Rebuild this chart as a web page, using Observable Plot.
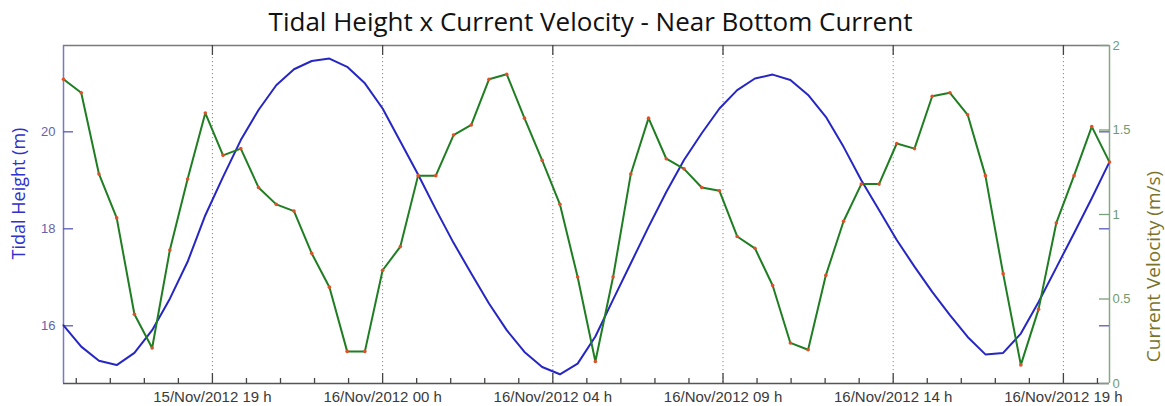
<!DOCTYPE html>
<html>
<head>
<meta charset="utf-8">
<script src="https://cdn.jsdelivr.net/npm/d3@7"></script>
<script src="https://cdn.jsdelivr.net/npm/@observablehq/plot@0.6"></script>
<style>
  body { margin: 0; background: #fff; }
  #chart svg { display: block; }
</style>
</head>
<body>
<div id="chart"></div>
<script>
// Half-hourly samples, 15/Nov/2012 15:00 to 16/Nov/2012 20:30
const startTime = "2012-11-15T15:00:00Z";
const sampleMinutes = 30;

// Tidal height (m)
const tidalHeight = [
  16.01, 15.57, 15.28, 15.19, 15.44, 15.91, 16.56, 17.32, 18.28, 19.07,
  19.83, 20.45, 20.96, 21.29, 21.46, 21.51, 21.34, 21.00, 20.48, 19.80,
  19.12, 18.40, 17.71, 17.08, 16.46, 15.91, 15.46, 15.15, 15.00, 15.22,
  15.78, 16.54, 17.29, 18.04, 18.76, 19.42, 19.97, 20.48, 20.86, 21.10,
  21.18, 21.07, 20.76, 20.31, 19.69, 19.00, 18.39, 17.77, 17.22, 16.70,
  16.22, 15.77, 15.41, 15.44, 15.84, 16.49, 17.20, 17.91, 18.63, 19.38
];

// Near-bottom current velocity (m/s)
const currentVelocity = [
  1.80, 1.72, 1.24, 0.98, 0.41, 0.21, 0.79, 1.21, 1.60, 1.35,
  1.39, 1.16, 1.06, 1.02, 0.77, 0.57, 0.19, 0.19, 0.67, 0.81,
  1.23, 1.23, 1.47, 1.53, 1.80, 1.83, 1.57, 1.32, 1.06, 0.63,
  0.13, 0.63, 1.24, 1.57, 1.33, 1.27, 1.16, 1.14, 0.87, 0.80,
  0.58, 0.24, 0.20, 0.64, 0.96, 1.18, 1.18, 1.42, 1.39, 1.70,
  1.72, 1.59, 1.23, 0.65, 0.11, 0.44, 0.95, 1.23, 1.52, 1.31
];

// Axis ticks and labels
const heightTicks = [16, 18, 20];
const velocityTicks = [0, 0.5, 1, 1.5, 2];
const timeTicks = [
  "2012-11-15T19:12:00Z", "2012-11-16T00:00:00Z", "2012-11-16T04:48:00Z",
  "2012-11-16T09:36:00Z", "2012-11-16T14:24:00Z", "2012-11-16T19:12:00Z"
];
const timeTickLabels = [
  "15/Nov/2012 19 h", "16/Nov/2012 00 h", "16/Nov/2012 04 h",
  "16/Nov/2012 09 h", "16/Nov/2012 14 h", "16/Nov/2012 19 h"
];

const t0 = new Date(startTime);
const times = tidalHeight.map((_, i) => d3.utcMinute.offset(t0, i * sampleMinutes));
const tEnd = times[times.length - 1];

const tidal = times.map((t, i) => ({t, h: tidalHeight[i]}));
const velocity = times.map((t, i) => ({t, v: currentVelocity[i]}));

const majorTimes = timeTicks.map(s => new Date(s));
const labelByTime = new Map(majorTimes.map((d, i) => [+d, timeTickLabels[i]]));
// minor ticks every 0.04 day between the labelled ticks
const minorStep = 0.04 * 864e5;
const minorTimes = d3.range(+majorTimes[0] - 4 * minorStep, +tEnd, minorStep)
  .filter(ms => ms > +t0 && !majorTimes.some(m => Math.abs(+m - ms) < 1000))
  .map(ms => new Date(ms));

// Left axis range (tidal height); the velocity axis 0..2 shares the same frame
const hLo = 14.81, hHi = 21.78;
const v2h = v => hLo + v * (hHi - hLo) / 2;
const h2v = h => Math.round((h - hLo) * 2 / (hHi - hLo) * 10) / 10;

const W = 1165, H = 406;
const mL = 63, mR = 56, mT = 45, mB = 23;
const plotW = W - mL - mR, plotH = H - mT - mB;

const blue = "#2626c4", green = "#1f7d22", dotRed = "#e0502a";
const tickFont = "Liberation Sans, Arial, sans-serif";
const titleFont = "Open Sans, sans-serif";

const chart = Plot.plot({
  width: W,
  height: H,
  marginLeft: mL,
  marginRight: mR,
  marginTop: mT,
  marginBottom: mB,
  x: {type: "utc", domain: [t0, tEnd]},
  y: {domain: [hLo, hHi]},
  marks: [
    // dotted gridlines at labelled times
    Plot.ruleX(majorTimes, {stroke: "#888", strokeDasharray: "1.2,2.8", strokeWidth: 1}),
    // frame
    Plot.ruleY([hHi], {stroke: "#7a7a7a", strokeWidth: 1.5}),
    Plot.ruleY([hLo], {stroke: "#555", strokeWidth: 1.5}),
    Plot.ruleX([t0], {stroke: "#7878c8", strokeWidth: 1.5}),
    Plot.ruleX([tEnd], {stroke: "#86a886", strokeWidth: 1.5}),
    // inward ticks on the time axis (bottom) and top edge
    Plot.tickX(majorTimes, {x: d => d, insetTop: plotH - 10, stroke: "#444", strokeWidth: 1.3}),
    Plot.tickX(minorTimes, {x: d => d, insetTop: plotH - 5, stroke: "#444", strokeWidth: 1.3}),
    Plot.tickX(majorTimes, {x: d => d, insetBottom: plotH - 10, stroke: "#444", strokeWidth: 1.3}),
    // inward ticks for tidal height (left and mirrored right)
    Plot.tickY(heightTicks, {y: d => d, insetRight: plotW - 10, stroke: "#5a5ab8", strokeWidth: 1.3}),
    Plot.tickY(heightTicks, {y: d => d, insetLeft: plotW - 10, stroke: "#5a5ab8", strokeWidth: 1.3}),
    // inward ticks for current velocity (right)
    Plot.tickY(velocityTicks.map(v2h), {y: d => d, insetLeft: plotW - 10, stroke: "#7aa07a", strokeWidth: 1.3}),
    // series
    Plot.line(tidal, {x: "t", y: "h", stroke: blue, strokeWidth: 2}),
    Plot.line(velocity, {x: "t", y: d => v2h(d.v), stroke: green, strokeWidth: 2}),
    Plot.dot(velocity, {x: "t", y: d => v2h(d.v), r: 1.8, fill: dotRed, stroke: null}),
    // axes
    Plot.axisY(heightTicks, {
      anchor: "left", tickSize: 0, tickPadding: 8, label: null,
      fill: "#6464a8", fontSize: 13, fontFamily: tickFont
    }),
    Plot.axisY(velocityTicks.map(v2h), {
      anchor: "right", tickSize: 0, tickPadding: 3, label: null,
      tickFormat: h => String(h2v(h)),
      fill: "#6f9a6f", fontSize: 13, fontFamily: tickFont
    }),
    Plot.axisX(majorTimes, {
      anchor: "bottom", tickSize: 0, tickPadding: 8, label: null,
      tickFormat: d => labelByTime.get(+d),
      fill: "#3a3a3a", fontSize: 15, fontFamily: tickFont
    }),
    // axis titles
    Plot.text(["Tidal Height (m)"], {
      frameAnchor: "left", textAnchor: "middle", lineAnchor: "middle",
      rotate: -90, dx: -44, dy: -21,
      fill: "#3030cc", fontSize: 18, fontFamily: titleFont
    }),
    Plot.text(["Current Velocity (m/s)"], {
      frameAnchor: "right", textAnchor: "middle", lineAnchor: "middle",
      rotate: -90, dx: 44, dy: 52,
      fill: "#7a732c", fontSize: 19, fontFamily: titleFont
    }),
    // chart title
    Plot.text(["Tidal Height x Current Velocity - Near Bottom Current"], {
      frameAnchor: "top", textAnchor: "middle", lineAnchor: "middle", dx: 4, dy: -23,
      fill: "#111", fontSize: 26, fontFamily: titleFont
    })
  ]
});

document.getElementById("chart").appendChild(chart);
</script>
</body>
</html>
